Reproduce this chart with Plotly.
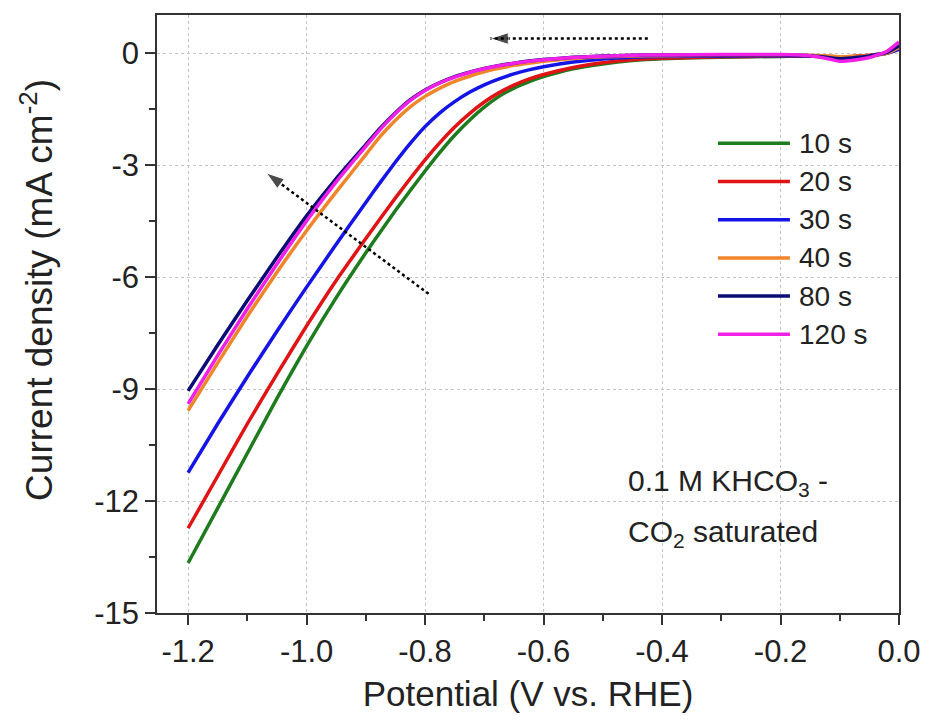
import plotly.graph_objects as go

# ---------------- data ----------------
potential = [-1.2, -1.15, -1.1, -1.05, -1.0, -0.95, -0.9, -0.875, -0.85, -0.825, -0.8,
             -0.775, -0.75, -0.725, -0.7, -0.675, -0.65, -0.625, -0.6, -0.55, -0.5,
             -0.45, -0.4, -0.3, -0.2, -0.15, -0.12, -0.1, -0.08, -0.05, -0.02, 0.0]

j_10s = [-13.66, -12.19, -10.72, -9.25, -7.85, -6.55, -5.35, -4.78, -4.22, -3.68, -3.16,
         -2.66, -2.2, -1.8, -1.45, -1.16, -0.94, -0.77, -0.63, -0.42, -0.29,
         -0.2, -0.15, -0.11, -0.09, -0.08, -0.1, -0.11, -0.1, -0.07, 0.0, 0.15]
j_20s = [-12.73, -11.33, -9.93, -8.6, -7.31, -6.09, -4.97, -4.42, -3.88, -3.36, -2.86,
         -2.4, -1.98, -1.62, -1.31, -1.06, -0.86, -0.7, -0.575, -0.387, -0.26,
         -0.18, -0.14, -0.1, -0.08, -0.08, -0.09, -0.1, -0.09, -0.06, 0.0, 0.12]
j_30s = [-11.24, -9.93, -8.67, -7.45, -6.27, -5.12, -4.0, -3.45, -2.92, -2.42, -1.97,
         -1.6, -1.3, -1.05, -0.85, -0.69, -0.556, -0.45, -0.365, -0.24, -0.157,
         -0.11, -0.09, -0.08, -0.07, -0.07, -0.1, -0.14, -0.12, -0.07, 0.0, 0.1]
j_40s = [-9.58, -8.3, -7.05, -5.87, -4.76, -3.72, -2.72, -2.22, -1.8, -1.44, -1.16,
         -0.94, -0.76, -0.62, -0.5, -0.41, -0.33, -0.27, -0.22, -0.145, -0.1,
         -0.08, -0.07, -0.06, -0.06, -0.06, -0.08, -0.1, -0.09, -0.07, 0.0, 0.15]
j_80s = [-9.05, -7.82, -6.63, -5.47, -4.36, -3.36, -2.45, -2.0, -1.6, -1.25, -0.99,
         -0.79, -0.63, -0.51, -0.41, -0.33, -0.27, -0.215, -0.175, -0.115, -0.08,
         -0.06, -0.05, -0.05, -0.05, -0.07, -0.12, -0.15, -0.13, -0.08, 0.02, 0.2]
j_120s = [-9.4, -8.1, -6.85, -5.65, -4.5, -3.45, -2.5, -2.03, -1.62, -1.27, -1.0,
          -0.8, -0.646, -0.52, -0.42, -0.34, -0.275, -0.22, -0.18, -0.12, -0.085,
          -0.06, -0.05, -0.04, -0.04, -0.07, -0.15, -0.22, -0.2, -0.12, 0.05, 0.3]

series_names = ["10 s", "20 s", "30 s", "40 s", "80 s", "120 s"]
series_values = [j_10s, j_20s, j_30s, j_40s, j_80s, j_120s]
series_colors = ["#1e7b1e", "#e01414", "#1414e6", "#f0862a", "#0c0c78", "#f020e6"]

# dotted arrows: (tail, head) in data units
arrow_tails_x = [-0.424, -0.794]
arrow_tails_y = [0.39, -6.45]
arrow_heads_x = [-0.69, -1.068]
arrow_heads_y = [0.39, -3.21]

x_tick_vals = [-1.2, -1.0, -0.8, -0.6, -0.4, -0.2, 0.0]
x_tick_text = ["-1.2", "-1.0", "-0.8", "-0.6", "-0.4", "-0.2", "0.0"]
y_tick_vals = [0, -3, -6, -9, -12, -15]
y_tick_text = ["0", "-3", "-6", "-9", "-12", "-15"]

# ---------------- figure ----------------
FONT = "Arial, Liberation Sans, sans-serif"
TXT = "#222222"
fig = go.Figure()

for name, vals, col in zip(series_names, series_values, series_colors):
    fig.add_trace(go.Scatter(x=potential, y=vals, mode="lines", name=name,
                             line=dict(color=col, width=3.5, shape="spline",
                                       smoothing=0.5),
                             showlegend=False))

for tx, ty, hx, hy in zip(arrow_tails_x, arrow_tails_y, arrow_heads_x, arrow_heads_y):
    fig.add_trace(go.Scatter(x=[tx, hx], y=[ty, hy], mode="lines+markers",
                             line=dict(color="black", width=2.5, dash="dot"),
                             marker=dict(symbol=["circle", "arrow"], size=[0, 19],
                                         angleref="previous", color="black"),
                             showlegend=False, hoverinfo="skip"))

# manual legend (long line samples like the reference)
leg_x0, leg_x1, leg_tx = 0.756, 0.853, 0.862
leg_y0, leg_dy = 0.7855, 0.0639
for i, (name, col) in enumerate(zip(series_names, series_colors)):
    yy = leg_y0 - i * leg_dy
    fig.add_shape(type="line", xref="paper", yref="paper", x0=leg_x0, x1=leg_x1,
                  y0=yy, y1=yy, line=dict(color=col, width=3.5))
    fig.add_annotation(xref="paper", yref="paper", x=leg_tx, y=yy, text=name,
                       showarrow=False, xanchor="left", yanchor="middle",
                       font=dict(family=FONT, size=28, color=TXT))

# text annotation
fig.add_annotation(xref="paper", yref="paper", x=0.632, y=0.219,
                   text="0.1 M KHCO<sub>3</sub> -", showarrow=False,
                   xanchor="left", yanchor="middle",
                   font=dict(family=FONT, size=30, color=TXT))
fig.add_annotation(xref="paper", yref="paper", x=0.632, y=0.133,
                   text="CO<sub>2</sub> saturated", showarrow=False,
                   xanchor="left", yanchor="middle",
                   font=dict(family=FONT, size=30, color=TXT))

# y-axis title placed as a rotated annotation
fig.add_annotation(xref="paper", yref="paper", x=-0.162, y=0.54,
                   text="Current density (mA cm<sup>-2</sup>)", textangle=-90,
                   showarrow=False, xanchor="center", yanchor="middle",
                   font=dict(family=FONT, size=37, color=TXT))

axis_common = dict(showline=True, mirror=True, linecolor="#333333", linewidth=1.5,
                   ticks="outside", ticklen=10, tickwidth=1.5, tickcolor="#333333",
                   showgrid=True, gridcolor="#c4c4c4", griddash="dot", gridwidth=1,
                   zeroline=False, automargin=False,
                   tickfont=dict(family=FONT, size=31, color=TXT))

fig.update_xaxes(range=[-1.2525, 0.0], tickmode="array", tickvals=x_tick_vals,
                 ticktext=x_tick_text,
                 minor=dict(tick0=-1.2, dtick=0.1, ticks="outside", ticklen=6,
                            tickwidth=1.5, tickcolor="#333333", showgrid=False),
                 title=dict(text="Potential (V vs. RHE)", standoff=14,
                            font=dict(family=FONT, size=35, color=TXT)),
                 **axis_common)
fig.update_yaxes(range=[-15, 1.02], tickmode="array", tickvals=y_tick_vals,
                 ticktext=y_tick_text,
                 minor=dict(tick0=0, dtick=1.5, ticks="outside", ticklen=6,
                            tickwidth=1.5, tickcolor="#333333", showgrid=False),
                 **axis_common)

fig.update_layout(width=927, height=727, margin=dict(l=157, r=28, t=15, b=114),
                  paper_bgcolor="white", plot_bgcolor="white", showlegend=False)

fig.write_html("out.html")
